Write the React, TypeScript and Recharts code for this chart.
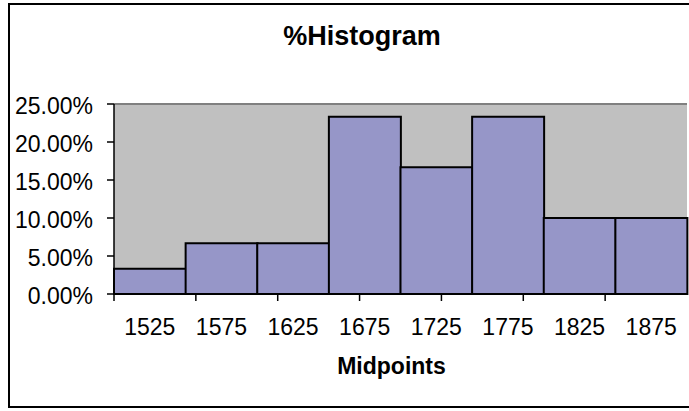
import React from 'react';
import { BarChart, Bar, XAxis, YAxis, CartesianGrid, ReferenceLine } from 'recharts';

const midpoints = ['1525', '1575', '1625', '1675', '1725', '1775', '1825', '1875'];
const percents = [0.0333, 0.0667, 0.0667, 0.2333, 0.1667, 0.2333, 0.1, 0.1];
const yTicks = [0, 0.05, 0.1, 0.15, 0.2, 0.25];
const edgeTicks = [0, 1, 2, 3, 4, 5, 6, 7, 8];

const data = midpoints.map((m, i) => ({ mid: m, pct: percents[i] }));

const FONT = '"Liberation Sans", Arial, sans-serif';

export default function App() {
  return (
    <div style={{ position: 'absolute', left: 0, top: 0, width: 689, height: 411, overflow: 'hidden', background: '#fff', fontFamily: FONT }}>
      <div style={{ position: 'absolute', left: 8, top: 3, width: 700, height: 405, boxSizing: 'border-box', border: '2px solid #000' }} />
      <div style={{ position: 'absolute', left: 262, width: 200, top: 23, lineHeight: '27px', fontSize: 27, fontWeight: 'bold', textAlign: 'center', color: '#000' }}>%Histogram</div>
      <div style={{ position: 'absolute', left: 0, top: 0 }}>
        <BarChart width={689} height={411} data={data} margin={{ top: 104, right: 2, bottom: 0, left: 0 }} barCategoryGap={0}>
          <CartesianGrid xAxisId="b" fill="#C0C0C0" horizontal={false} vertical={false} />
          <ReferenceLine xAxisId="b" y={0.25} stroke="#808080" strokeWidth={2} />
          <ReferenceLine xAxisId="a" x={8} stroke="#808080" strokeWidth={2} />
          <Bar xAxisId="b" dataKey="pct" fill="#9696C8" stroke="#000" strokeWidth={2} isAnimationActive={false} />
          <XAxis
            xAxisId="b"
            dataKey="mid"
            height={116}
            axisLine={false}
            tickLine={false}
            tickSize={7}
            tickMargin={17}
            interval={0}
            tick={{ fill: '#000', fontSize: 23, fontFamily: FONT }}
            label={{ value: 'Midpoints', position: 'insideTop', offset: 63, dx: -9, fill: '#000', fontSize: 23, fontWeight: 'bold', fontFamily: FONT }}
          />
          <XAxis
            xAxisId="a"
            type="number"
            domain={[0, 8]}
            ticks={edgeTicks}
            allowDataOverflow
            height={1}
            tickFormatter={() => ''}
            tick={{ fontSize: 1 }}
            tickSize={7}
            tickLine={{ stroke: '#000', strokeWidth: 1.5 }}
            axisLine={{ stroke: '#000', strokeWidth: 2 }}
          />
          <YAxis
            domain={[0, 0.25]}
            ticks={yTicks}
            width={114}
            tickSize={7}
            tickMargin={14}
            tickFormatter={(v: number) => (v * 100).toFixed(2) + '%'}
            tick={{ fill: '#000', fontSize: 23, fontFamily: FONT, dy: 2 }}
            tickLine={{ stroke: '#000', strokeWidth: 1.5 }}
            axisLine={{ stroke: '#000', strokeWidth: 1.5 }}
          />
        </BarChart>
      </div>
    </div>
  );
}
